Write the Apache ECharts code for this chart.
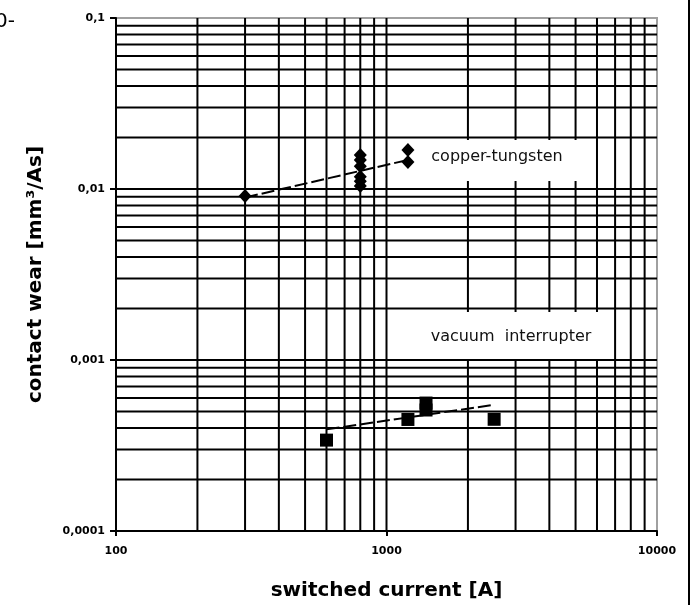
<!DOCTYPE html>
<html><head><meta charset="utf-8">
<script src="https://cdn.jsdelivr.net/npm/echarts@6/dist/echarts.min.js"></script>
<style>html,body{margin:0;padding:0;background:#fff}#c{width:694px;height:605px}</style>
</head><body><div id="c"></div>
<script>
// tick values / labels
const xTickValues = [100, 1000, 10000];
const yTickLabels = ['0,0001', '0,001', '0,01', '0,1'];
const xGridValues = [200, 300, 400, 500, 600, 700, 800, 900, 1000, 2000, 3000, 4000, 5000, 6000, 7000, 8000, 9000];
const yGridValues = [0.0002, 0.0003, 0.0004, 0.0005, 0.0006, 0.0007, 0.0008, 0.0009, 0.001,
  0.002, 0.003, 0.004, 0.005, 0.006, 0.007, 0.008, 0.009, 0.01,
  0.02, 0.03, 0.04, 0.05, 0.06, 0.07, 0.08, 0.09];

// copper-tungsten
const cuX = [300, 800, 800, 800, 800, 800, 800, 1200, 1200];
const cuY = [0.0091, 0.0158, 0.0148, 0.0136, 0.0118, 0.0111, 0.0104, 0.0169, 0.0144];
const cuTrendX = [300, 1200];
const cuTrendY = [0.00892, 0.01479];

// vacuum interrupter
const vacX = [600, 1200, 1400, 1400, 2500];
const vacY = [0.00034, 0.000449, 0.00056, 0.00051, 0.00045];
const vacTrendX = [600, 2500];
const vacTrendY = [0.000393, 0.000547];

const X_MIN = 100, X_MAX = 10000, Y_MIN = 0.0001, Y_MAX = 0.1;
const zip = (a, b) => a.map((v, i) => [v, b[i]]);
const chart = echarts.init(document.getElementById('c'), null, {renderer: 'canvas'});

const gridStyle = {stroke: '#000', lineWidth: 2};

chart.setOption({
  animation: false,
  backgroundColor: '#fff',
  grid: {left: 116, right: 37, top: 18, bottom: 74, show: true, borderColor: '#a0a0a0', borderWidth: 2,
    backgroundColor: 'transparent', containLabel: false, outerBoundsMode: 'none'},
  xAxis: {
    type: 'log', logBase: 10, min: X_MIN, max: X_MAX,
    name: 'switched current [A]', nameLocation: 'middle', nameGap: 50,
    nameTextStyle: {fontFamily: 'DejaVu Sans', fontWeight: 'bold', fontSize: 20, color: '#000'},
    axisLine: {show: true, lineStyle: {color: '#000', width: 2}},
    axisTick: {show: true, length: 5, lineStyle: {color: '#000', width: 2}},
    axisLabel: {fontFamily: 'DejaVu Sans', fontWeight: 'bold', fontSize: 11, color: '#000', margin: 15,
      formatter: v => xTickValues.indexOf(v) >= 0 ? String(v) : ''},
    splitLine: {show: false}, minorTick: {show: false}
  },
  yAxis: {
    type: 'log', logBase: 10, min: Y_MIN, max: Y_MAX,
    name: 'contact wear [mm³/As]', nameLocation: 'middle', nameGap: 70, nameRotate: 90,
    nameTextStyle: {fontFamily: 'DejaVu Sans', fontWeight: 'bold', fontSize: 20, color: '#000'},
    axisLine: {show: true, lineStyle: {color: '#000', width: 2}},
    axisTick: {show: true, length: 6, lineStyle: {color: '#000', width: 2}},
    axisLabel: {fontFamily: 'DejaVu Sans', fontWeight: 'bold', fontSize: 11, color: '#000', margin: 11,
      formatter: v => {
        const s = String(v).replace('.', ',');
        return yTickLabels.indexOf(s) >= 0 ? s : '';
      }},
    splitLine: {show: false}
  },
  graphic: [
    {type: 'rect', z: 5, shape: {x: 392, y: 140, width: 196, height: 41}, style: {fill: '#fff'}},
    {type: 'rect', z: 5, shape: {x: 394, y: 312, width: 217, height: 47}, style: {fill: '#fff'}},
    {type: 'text', z: 20, x: 497, y: 157, style: {text: 'copper-tungsten', font: '16px "DejaVu Sans"', fill: '#111', align: 'center', verticalAlign: 'middle'}},
    {type: 'text', z: 20, x: 511, y: 337, style: {text: 'vacuum  interrupter', font: '16px "DejaVu Sans"', fill: '#111', align: 'center', verticalAlign: 'middle'}},
    {type: 'text', z: 20, x: -5, y: 22, style: {text: '0-', font: '20px "DejaVu Sans"', fill: '#000', verticalAlign: 'middle'}},
    {type: 'line', z: 20, shape: {x1: 689, y1: 0, x2: 689, y2: 605}, style: {stroke: '#000', lineWidth: 2}}
  ],
  series: [
    {
      type: 'custom', z: 1, silent: true, data: yGridValues.map(v => [X_MIN, v]),
      renderItem: (params, api) => {
        const v = api.value(1);
        const p1 = api.coord([X_MIN, v]), p2 = api.coord([X_MAX, v]);
        return {type: 'line', shape: {x1: p1[0], y1: p1[1], x2: p2[0], y2: p2[1]}, style: gridStyle};
      }
    },
    {
      type: 'custom', z: 1, silent: true, data: xGridValues.map(v => [v, Y_MIN]),
      renderItem: (params, api) => {
        const v = api.value(0);
        const p1 = api.coord([v, Y_MIN]), p2 = api.coord([v, Y_MAX]);
        return {type: 'line', shape: {x1: p1[0], y1: p1[1], x2: p2[0], y2: p2[1]}, style: gridStyle};
      }
    },
    {
      type: 'line', data: zip(cuTrendX, cuTrendY), z: 8, symbol: 'none', silent: true,
      lineStyle: {color: '#000', width: 2, type: [13, 4]}
    },
    {
      type: 'line', data: zip(vacTrendX, vacTrendY), z: 8, symbol: 'none', silent: true,
      lineStyle: {color: '#000', width: 2, type: [13, 4]}
    },
    {
      type: 'scatter', data: zip(cuX, cuY), z: 10, symbol: 'diamond', symbolSize: [13, 14],
      itemStyle: {color: '#000', opacity: 1}
    },
    {
      type: 'scatter', data: zip(vacX, vacY), z: 10, symbol: 'rect', symbolSize: [13, 13],
      itemStyle: {color: '#000', opacity: 1}
    }
  ]
});
</script>
</body></html>
